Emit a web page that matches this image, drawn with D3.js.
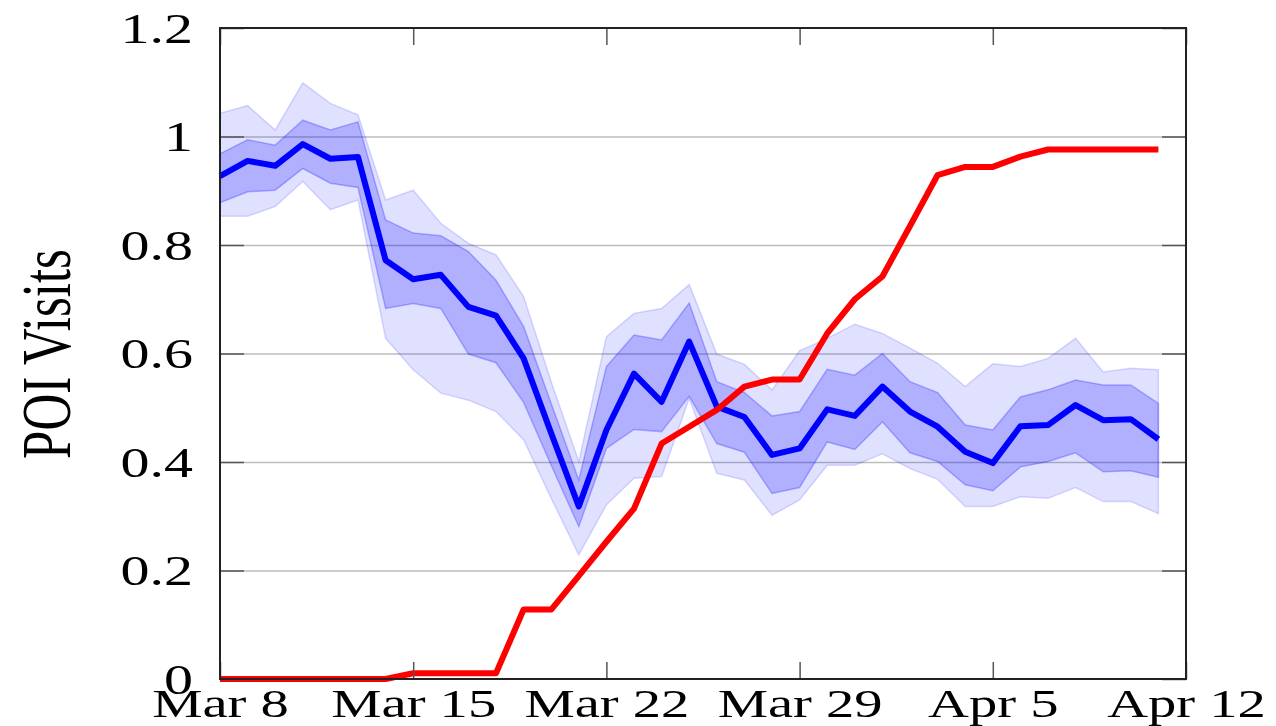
<!DOCTYPE html>
<html>
<head>
<meta charset="utf-8">
<script src="https://cdn.jsdelivr.net/npm/d3@7"></script>
<style>
  html, body { margin: 0; padding: 0; background: #fff; }
  svg { display: block; }
  text { font-family: "Liberation Serif", "DejaVu Serif", serif; fill: #000; }
</style>
</head>
<body>
<svg id="chart" width="1276" height="726"></svg>
<script>
// ---- data (Mar 8 .. Apr 11, 2020) ----
const dates = ["2020-03-08","2020-03-09","2020-03-10","2020-03-11","2020-03-12","2020-03-13","2020-03-14",
  "2020-03-15","2020-03-16","2020-03-17","2020-03-18","2020-03-19","2020-03-20","2020-03-21",
  "2020-03-22","2020-03-23","2020-03-24","2020-03-25","2020-03-26","2020-03-27","2020-03-28",
  "2020-03-29","2020-03-30","2020-03-31","2020-04-01","2020-04-02","2020-04-03","2020-04-04",
  "2020-04-05","2020-04-06","2020-04-07","2020-04-08","2020-04-09","2020-04-10","2020-04-11"];

const poiMean = [0.927,0.955,0.946,0.986,0.959,0.962,0.772,0.737,0.745,0.686,0.670,0.591,0.453,0.318,
  0.459,0.563,0.511,0.622,0.502,0.483,0.413,0.425,0.497,0.485,0.539,0.493,0.465,0.419,
  0.398,0.466,0.468,0.505,0.477,0.479,0.442];
const innerHigh = [0.968,0.994,0.984,1.030,1.012,1.027,0.846,0.822,0.817,0.788,0.735,0.650,0.508,0.367,
  0.576,0.634,0.625,0.693,0.548,0.528,0.485,0.493,0.571,0.560,0.600,0.548,0.528,0.468,
  0.459,0.520,0.533,0.551,0.542,0.542,0.508];
const innerLow = [0.878,0.898,0.901,0.941,0.914,0.906,0.683,0.692,0.683,0.599,0.583,0.510,0.394,0.281,
  0.425,0.460,0.456,0.521,0.434,0.418,0.342,0.353,0.437,0.423,0.474,0.417,0.401,0.358,
  0.347,0.391,0.401,0.417,0.382,0.384,0.372];
const outerHigh = [1.043,1.057,1.012,1.099,1.061,1.040,0.883,0.901,0.840,0.803,0.782,0.705,0.548,0.401,
  0.631,0.674,0.683,0.727,0.599,0.580,0.533,0.605,0.628,0.654,0.637,0.610,0.582,0.539,
  0.581,0.576,0.591,0.628,0.566,0.573,0.570];
const outerLow = [0.853,0.853,0.871,0.917,0.865,0.883,0.628,0.570,0.527,0.514,0.493,0.441,0.333,0.229,
  0.321,0.370,0.373,0.517,0.379,0.367,0.302,0.330,0.394,0.394,0.415,0.388,0.368,0.318,
  0.318,0.336,0.333,0.353,0.327,0.327,0.305];
const policy = [0,0,0,0,0,0,0,0.0105,0.0105,0.0105,0.0105,0.128,0.128,0.19,
  0.253,0.314,0.434,0.465,0.496,0.539,0.552,0.552,0.637,0.700,0.742,0.835,0.929,0.944,
  0.944,0.963,0.976,0.976,0.976,0.976,0.976];

const xTickDates = ["2020-03-08","2020-03-15","2020-03-22","2020-03-29","2020-04-05","2020-04-12"];
const xTickLabels = ["Mar 8","Mar 15","Mar 22","Mar 29","Apr 5","Apr 12"];
const yTicks = [0,0.2,0.4,0.6,0.8,1,1.2];
const yTickLabels = ["0","0.2","0.4","0.6","0.8","1","1.2"];
const yLabel = "POI Visits";

// ---- layout ----
const L = 220, R = 1186, T = 28, B = 679;
const SX = 1.38;      // horizontal stretch of the original figure
const FS = 42;

const svg = d3.select("#chart");
const parse = d3.utcParse("%Y-%m-%d");
const rows = dates.map((d, i) => ({
  t: parse(d), m: poiMean[i], ih: innerHigh[i], il: innerLow[i],
  oh: outerHigh[i], ol: outerLow[i], p: policy[i]
}));

const x = d3.scaleUtc().domain([parse("2020-03-08"), parse("2020-04-12")]).range([L, R]);
const y = d3.scaleLinear().domain([0, 1.2]).range([B, T]);

// grid
const grid = svg.append("g").attr("transform", `translate(${L},0)`)
  .call(d3.axisLeft(y).tickValues(yTicks.slice(1, -1)).tickSize(-(R - L)).tickFormat(""));
grid.select(".domain").remove();
grid.selectAll("line").attr("stroke", "#bdbdbd").attr("stroke-width", 1.5);

// bands
const plot = svg.append("g");
plot.append("path").datum(rows)
  .attr("d", d3.area().x(d => x(d.t)).y0(d => y(d.ol)).y1(d => y(d.oh)))
  .attr("fill", "rgba(0,0,255,0.12)").attr("stroke", "rgba(0,0,255,0.14)").attr("stroke-width", 1.5);
plot.append("path").datum(rows)
  .attr("d", d3.area().x(d => x(d.t)).y0(d => y(d.il)).y1(d => y(d.ih)))
  .attr("fill", "rgba(0,0,255,0.21)").attr("stroke", "rgba(0,0,255,0.25)").attr("stroke-width", 1.5);

plot.append("path").datum(rows)
  .attr("d", d3.line().x(d => x(d.t)).y(d => y(d.m)))
  .attr("fill", "none").attr("stroke", "#0000ff").attr("stroke-width", 6).attr("stroke-linejoin", "round");
plot.append("path").datum(rows)
  .attr("d", d3.line().x(d => x(d.t)).y(d => y(d.p)))
  .attr("fill", "none").attr("stroke", "#ff0000").attr("stroke-width", 6).attr("stroke-linejoin", "round");

// axes (inward ticks)
const xVals = xTickDates.map(parse);
function styleTicks(g) {
  g.select(".domain").remove();
  g.selectAll("line").attr("stroke", "#555").attr("stroke-width", 1.5);
}
const gB = svg.append("g").attr("transform", `translate(0,${B})`)
  .call(d3.axisBottom(x).tickValues(xVals).tickSize(-17).tickFormat((d, i) => xTickLabels[i]));
styleTicks(gB);
gB.selectAll("text").attr("y", 0).attr("dy", 0)
  .attr("transform", `translate(0,38) scale(${SX},1)`)
  .style("font-size", "41px").attr("text-anchor", "middle");

const gT = svg.append("g").attr("transform", `translate(0,${T})`)
  .call(d3.axisTop(x).tickValues(xVals).tickSize(-17).tickFormat(""));
styleTicks(gT);

const gL = svg.append("g").attr("transform", `translate(${L},0)`)
  .call(d3.axisLeft(y).tickValues(yTicks).tickSize(-24).tickFormat((d, i) => yTickLabels[i]));
styleTicks(gL);
gL.selectAll("text").attr("x", 0).attr("dy", "0.34em")
  .attr("transform", `translate(-27,0) scale(${SX},1)`)
  .style("font-size", FS + "px").attr("text-anchor", "end");

const gR = svg.append("g").attr("transform", `translate(${R},0)`)
  .call(d3.axisRight(y).tickValues(yTicks).tickSize(-24).tickFormat(""));
styleTicks(gR);

// frame
svg.append("rect").attr("x", L).attr("y", T).attr("width", R - L).attr("height", B - T)
  .attr("fill", "none").attr("stroke", "#222").attr("stroke-width", 2);

// y label
svg.append("text")
  .attr("transform", `translate(46,354) scale(${SX},1) rotate(-90)`)
  .attr("text-anchor", "middle").attr("dy", "0.34em")
  .style("font-size", "51px").text(yLabel);
</script>
</body>
</html>
